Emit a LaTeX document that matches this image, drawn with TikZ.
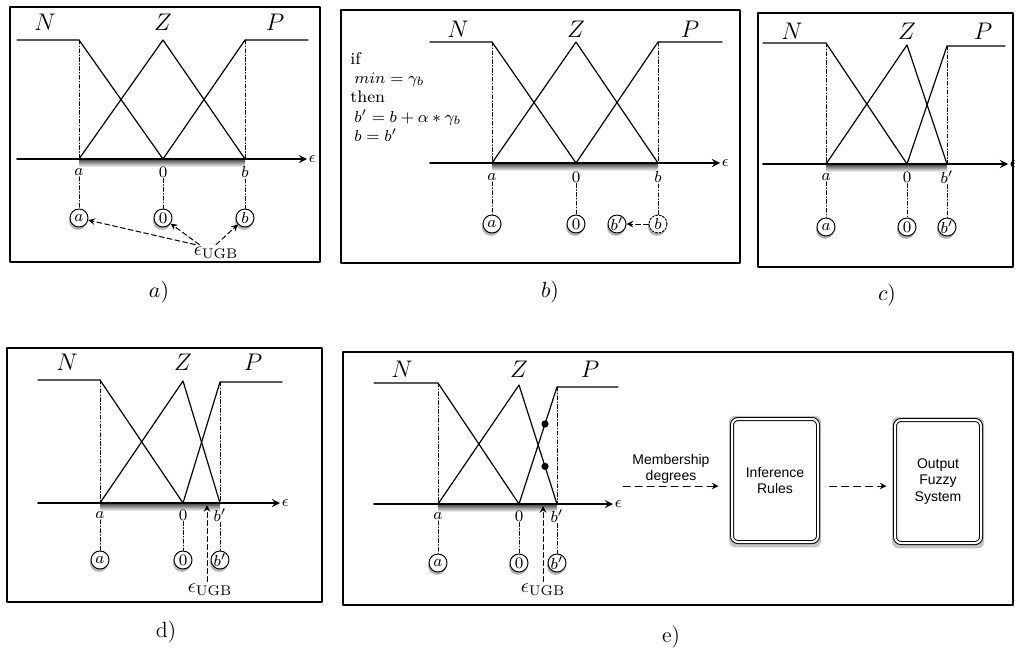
\documentclass[tikz,border=0pt]{standalone}
\usepackage{fontspec}
\newfontfamily\helv{Liberation Sans}
\usetikzlibrary{shadows,calc}
\begin{document}
\begin{tikzpicture}[x=0.5pt, y=-0.5pt, line join=round, line cap=round, >=stealth,
  panel/.style={line width=0.7pt},
  mf/.style={line width=0.6pt},
  eaxis/.style={->, line width=0.8pt},
  guide/.style={line width=0.4pt, dash pattern=on 2pt off 1pt on 0.4pt off 1pt},
  setname/.style={font=\fontsize{11.5}{13}\selectfont},
  tick/.style={font=\fontsize{8.5}{10}\selectfont, inner sep=0.5pt},
  knot/.style={circle, draw, line width=0.5pt, fill=white, minimum size=9pt, inner sep=0pt,
    font=\fontsize{8}{9}\selectfont, drop shadow={shadow xshift=-0.5pt, shadow yshift=-1.4pt, fill=black!60}},
  ugb/.style={font=\fontsize{10}{12}\selectfont, inner sep=1pt},
  ugbarrow/.style={->, line width=0.5pt, dash pattern=on 2.5pt off 1.5pt},
  flow/.style={->, line width=0.5pt, dash pattern=on 3.5pt off 2.5pt},
  blockbox/.style={draw, rounded corners=3pt, double, double distance=1pt, line width=0.5pt, fill=white,
    minimum width=43pt, minimum height=61.5pt, align=center, font=\helv\fontsize{7}{8.2}\selectfont,
    drop shadow={shadow xshift=0pt, shadow yshift=-0.5pt, shadow scale=1.07, fill=black!45}},
  caption/.style={font=\fontsize{11}{13}\selectfont},
  rule/.style={anchor=base west, inner sep=0pt, font=\fontsize{8.4}{9.6}\selectfont},
  floor/.style={top color=black!75, bottom color=white}
]
\useasboundingbox (0,0) rectangle (1015,654);

% a)
\draw[panel] (10,7) rectangle (320,262);
\shade[floor] (79,159) rectangle (245,167);
\draw[eaxis] (17,159) -- (307,159) node[tick, right] (ea) {$\epsilon$};
\draw[line width=1.3pt] (79,159) -- (245,159);
\draw[mf] (17,40) -- (79,40) -- (163,159);
\draw[mf] (79,159) -- (163,40) -- (245,159);
\draw[mf] (163,159) -- (245,40) -- (308,40);
\draw[guide] (79,40) -- (79,159) (245,40) -- (245,159);
\node[setname] (Na) at (45,22) {$N$};
\node[setname] (Za) at (163,22) {$Z$};
\node[setname] (Pa) at (275,22) {$P$};
\node[tick] (aa) at (79,172) {$a$};
\node[tick] (oa) at (163,172) {$0$};
\node[tick] (ba) at (245,172) {$b$};
\node[knot] (kaa) at (79,218) {$a$};
\node[knot] (koa) at (163,218) {$0$};
\node[knot] (kba) at (245,218) {$b$};
\draw[guide] (aa) -- (kaa) (oa) -- (koa) (ba) -- (kba);
\node[ugb] (ua) at (216,253) {$\epsilon_{\mathrm{UGB}}$};
\draw[ugbarrow] ([xshift=2pt]ua.north west) -- (kaa);
\draw[ugbarrow] ([xshift=4pt]ua.north west) -- (koa);
\draw[ugbarrow] (ua.north) -- (kba);
\node[caption] (la) at (159,292) {$a)$};

% b)
\draw[panel] (341,10) rectangle (740,263);
\shade[floor] (492,163) rectangle (658,171);
\draw[eaxis] (430,163) -- (720,163) node[tick, right] (eb) {$\epsilon$};
\draw[line width=1.3pt] (492,163) -- (658,163);
\draw[mf] (430,42) -- (492,42) -- (576,163);
\draw[mf] (492,163) -- (576,42) -- (658,163);
\draw[mf] (576,163) -- (658,42) -- (722,42);
\draw[guide] (492,42) -- (492,163) (658,42) -- (658,163);
\node[setname] (Nb) at (458,29) {$N$};
\node[setname] (Zb) at (576,29) {$Z$};
\node[setname] (Pb) at (690,29) {$P$};
\node[tick] (ab) at (492,177) {$a$};
\node[tick] (ob) at (576,177) {$0$};
\node[tick] (bb) at (658,177) {$b$};
\node[knot] (kab) at (492,224) {$a$};
\node[knot] (kob) at (576,224) {$0$};
\node[knot, dash pattern=on 1pt off 0.8pt] (kbb) at (658,224) {$b$};
\node[knot] (knb) at (617,224) {$b'$};
\draw[guide] (ab) -- (kab) (ob) -- (kob) (bb) -- (kbb);
\draw[ugbarrow] (kbb) -- (knb);
\node[rule] (r1) at (350,64) {if};
\node[rule] (r2) at (354,83) {$min=\gamma_b$};
\node[rule] (r3) at (350,102) {then};
\node[rule] (r4) at (354,122) {$b'=b+\alpha*\gamma_b$};
\node[rule] (r5) at (354,141) {$b=b'$};
\node[caption] (lb) at (550,292) {$b)$};

% c)
\draw[panel] (758,13) rectangle (1013,267);
\shade[floor] (826,164) rectangle (947,172);
\draw[eaxis] (763,164) -- (1008,164) node[tick, right] (ec) {$\epsilon$};
\draw[line width=1.3pt] (826,164) -- (947,164);
\draw[mf] (763,43) -- (826,43) -- (907,164);
\draw[mf] (826,164) -- (907,45) -- (947,164);
\draw[mf] (907,164) -- (947,46) -- (1005,46);
\draw[guide] (826,43) -- (826,164) (947,46) -- (947,164);
\node[setname] (Nc) at (792,31) {$N$};
\node[setname] (Zc) at (907,31) {$Z$};
\node[setname] (Pc) at (983,31) {$P$};
\node[tick] (ac) at (826,177) {$a$};
\node[tick] (oc) at (907,177) {$0$};
\node[tick] (bc) at (947,177) {$b'$};
\node[knot] (kac) at (826,227) {$a$};
\node[knot] (koc) at (907,227) {$0$};
\node[knot] (kbc) at (947,227) {$b'$};
\draw[guide] (ac) -- (kac) (oc) -- (koc) (bc) -- (kbc);
\node[caption] (lc) at (887,295) {$c)$};

% d)
\draw[panel] (7,348) rectangle (322,602);
\shade[floor] (100,503) rectangle (220,511);
\draw[eaxis] (38,503) -- (280,503) node[tick, right] (ed) {$\epsilon$};
\draw[line width=1.3pt] (100,503) -- (220,503);
\draw[mf] (38,380) -- (100,380) -- (183,503);
\draw[mf] (100,503) -- (183,381) -- (220,503);
\draw[mf] (183,503) -- (220,382) -- (282,382);
\draw[guide] (100,380) -- (100,503) (220,382) -- (220,503);
\node[setname] (Nd) at (67,362) {$N$};
\node[setname] (Zd) at (183,362) {$Z$};
\node[setname] (Pd) at (253,362) {$P$};
\node[tick] (ad) at (100,515) {$a$};
\node[tick] (od) at (183,515) {$0$};
\node[tick] (bd) at (220,515) {$b'$};
\node[knot] (kad) at (100,560) {$a$};
\node[knot] (kod) at (183,560) {$0$};
\node[knot] (kbd) at (220,560) {$b'$};
\draw[guide] (ad) -- (kad) (od) -- (kod) (bd) -- (kbd);
\coordinate (hd) at (207,505);
\node[ugb] (ud) at (210,590) {$\epsilon_{\mathrm{UGB}}$};
\draw[ugbarrow] (ud.north -| hd) -- (hd);
\node[caption] (ld) at (166,632) {d)};

% e)
\draw[panel] (343,352) rectangle (1013,605);
\shade[floor] (438,504) rectangle (557,512);
\draw[eaxis] (374,504) -- (613,504) node[tick, right] (ee) {$\epsilon$};
\draw[line width=1.3pt] (438,504) -- (557,504);
\draw[mf] (374,383) -- (438,383) -- (519,504);
\draw[mf] (438,504) -- (519,385) -- (557,504);
\draw[mf] (519,504) -- (557,387) -- (618,387);
\draw[guide] (438,383) -- (438,504) (557,387) -- (557,504);
\node[setname] (Ne) at (402,369) {$N$};
\node[setname] (Ze) at (519,369) {$Z$};
\node[setname] (Pe) at (590,369) {$P$};
\node[tick] (ae) at (438,516) {$a$};
\node[tick] (oe) at (519,516) {$0$};
\node[tick] (be) at (557,516) {$b'$};
\node[knot] (kae) at (438,563) {$a$};
\node[knot] (koe) at (519,563) {$0$};
\node[knot] (kbe) at (557,563) {$b'$};
\draw[guide] (ae) -- (kae) (oe) -- (koe) (be) -- (kbe);
\fill ($(519,504)!0.684!(557,387)$) circle (1.8pt);
\fill ($(519,385)!0.684!(557,504)$) circle (1.8pt);
\coordinate (he) at (543,506);
\node[ugb] (ue) at (543,590) {$\epsilon_{\mathrm{UGB}}$};
\draw[ugbarrow] (ue.north -| he) -- (he);
\node[font=\helv\fontsize{7}{8.2}\selectfont, align=center] (md) at (671,469) {Membership\\degrees};
\node[blockbox] (ir) at (775,480.5) {Inference\\Rules};
\node[blockbox] (ofs) at (938,481.5) {Output\\Fuzzy\\System};
\coordinate (ms) at (623,486);
\draw[flow, shorten >=6.5pt] (ms) -- (ms -| ir.west);
\draw[flow, shorten <=5.5pt, shorten >=4pt] (ir.east |- ms) -- (ofs.west |- ms);
\node[caption] (le) at (671,637) {e)};
\end{tikzpicture}
\end{document}
